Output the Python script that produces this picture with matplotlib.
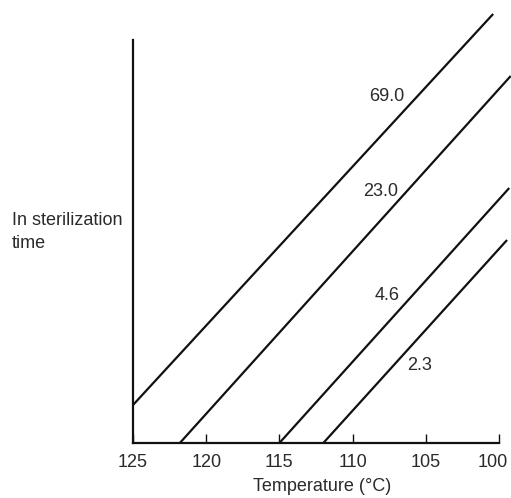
import numpy as np
import matplotlib.pyplot as plt
import matplotlib.transforms as mtransforms

plt.rcParams['font.family'] = ['Liberation Sans', 'DejaVu Sans']

# line labels (D values) and their end points
labels = ["69.0", "23.0", "4.6", "2.3"]
temp_start = [125.0, 121.8, 115.0, 112.0]
temp_end = [100.4, 99.2, 99.3, 99.45]
lntime_start = [0.38, 0.0, 0.0, 0.0]
lntime_end = [4.29, 3.67, 2.55, 2.03]

ticks = [125, 120, 115, 110, 105, 100]

fig = plt.figure(figsize=(5.11, 4.98), dpi=100)
ax = fig.add_axes([133/511, 55/498, 378/511, 433/498])

for i in range(len(labels)):
    ax.plot([temp_start[i], temp_end[i]], [lntime_start[i], lntime_end[i]],
            color="#111111", lw=1.6, solid_capstyle="butt", clip_on=False)

# curve labels, placed just left of each line
label_pos = [(107.65, 3.46), (108.06, 2.51), (107.65, 1.48), (105.4, 0.77)]
for lab, (tx, ty) in zip(labels, label_pos):
    ax.text(tx, ty, lab, ha="center", va="center", fontsize=13, color="#2a2a2a")

ax.set_xlim(125, 99.18)
ax.set_ylim(0, 4.33)
ax.spines["top"].set_visible(False)
ax.spines["right"].set_visible(False)
ax.spines["bottom"].set_bounds(125, 100)
ax.spines["left"].set_bounds(0, 4.03)
for s in ("bottom", "left"):
    ax.spines[s].set_linewidth(1.6)
    ax.spines[s].set_color("#111111")

ax.set_xticks(ticks)
ax.set_xticklabels([str(t) for t in ticks])
ax.tick_params(axis="x", direction="in", length=6.5, width=1.0, pad=8,
               labelsize=13, colors="#111111", labelcolor="#2a2a2a")
ax.set_yticks([])

# last tick label sits a bit left of its tick so it stays inside the figure
last = ax.get_xticklabels()[-1]
last.set_transform(last.get_transform() +
                   mtransforms.ScaledTranslation(-6/100, 0, fig.dpi_scale_trans))

ax.set_xlabel("Temperature (°C)", fontsize=13, color="#2a2a2a", labelpad=5)
fig.text(12/511, 1 - 232/498, "In sterilization\ntime", ha="left", va="center",
         fontsize=13, color="#2a2a2a", linespacing=1.4)

fig.savefig("out.png", dpi=100)
